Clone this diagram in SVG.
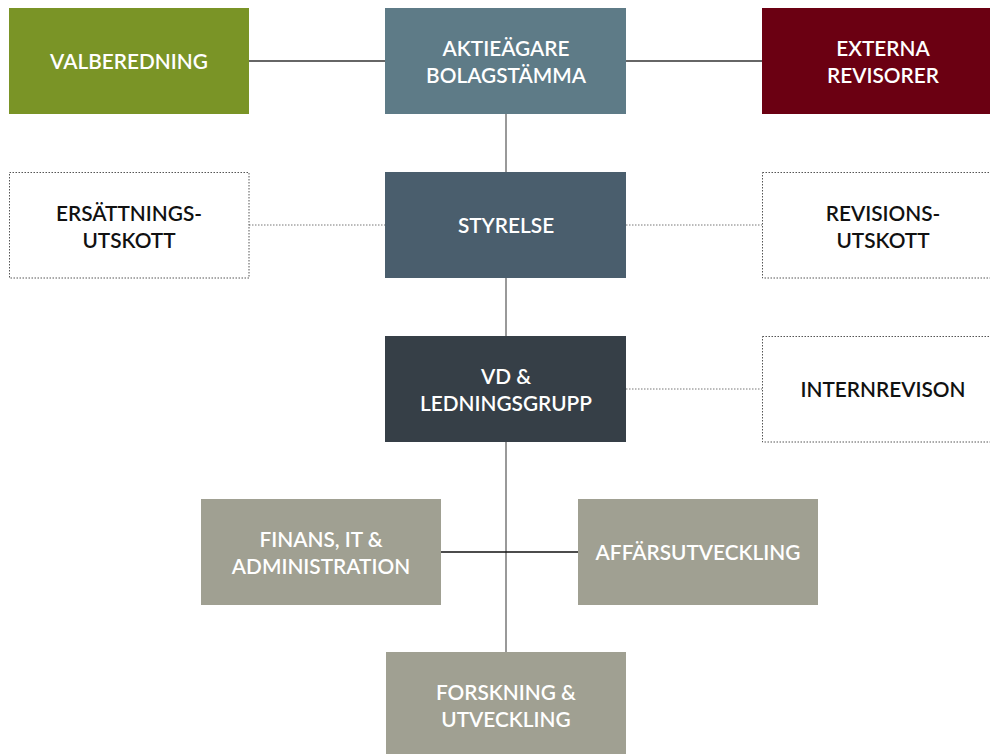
<svg xmlns="http://www.w3.org/2000/svg" width="990" height="754" viewBox="0 0 990 754">
<style>
text{font-family:Lato,"Open Sans","Liberation Sans",sans-serif;font-size:20.8px;font-weight:600;text-anchor:middle}
.w{fill:#ffffff}.k{fill:#111111}
.dot{fill:#ffffff;stroke:#555555;stroke-width:1;stroke-dasharray:1.5 1.5}
</style>
<rect width="990" height="754" fill="#ffffff"/>
<g id="connectors">
<line x1="249" y1="61" x2="385" y2="61" stroke="#333" stroke-width="1.3"/>
<line x1="626" y1="61" x2="762" y2="61" stroke="#333" stroke-width="1.3"/>
<line x1="506" y1="114" x2="506" y2="172" stroke="#777" stroke-width="1.5"/>
<line x1="506" y1="278" x2="506" y2="336" stroke="#777" stroke-width="1.5"/>
<line x1="506" y1="442" x2="506" y2="652" stroke="#777" stroke-width="1.5"/>
<line x1="441" y1="552" x2="578" y2="552" stroke="#111" stroke-width="1.3"/>
<line x1="249" y1="225" x2="385" y2="225" stroke="#777" stroke-width="1" stroke-dasharray="1.5 1.5"/>
<line x1="626" y1="225" x2="762" y2="225" stroke="#777" stroke-width="1" stroke-dasharray="1.5 1.5"/>
<line x1="626" y1="389" x2="762" y2="389" stroke="#777" stroke-width="1" stroke-dasharray="1.5 1.5"/>
</g>
<g id="valberedning"><rect x="9" y="8" width="240" height="106" fill="#7a9426"/><text class="w" x="129" y="68.5">VALBEREDNING</text></g>
<g id="aktieagare"><rect x="385" y="8" width="241" height="106" fill="#5e7b87"/><text class="w" x="506" y="55.5">AKTIEÄGARE</text><text class="w" x="506" y="82.5">BOLAGSTÄMMA</text></g>
<g id="externa"><rect x="762" y="8" width="228" height="106" fill="#6b0012"/><text class="w" x="883" y="55.5">EXTERNA</text><text class="w" x="883" y="82.5">REVISORER</text></g>
<g id="ersattning"><rect class="dot" x="9.5" y="172.5" width="239.5" height="105.5"/><text class="k" x="129" y="220.5">ERSÄTTNINGS-</text><text class="k" x="129" y="247.5">UTSKOTT</text></g>
<g id="styrelse"><rect x="385" y="172" width="241" height="106" fill="#4a5e6d"/><text class="w" x="506" y="232.5">STYRELSE</text></g>
<g id="revisions"><rect class="dot" x="762.5" y="172.5" width="228" height="105.5"/><text class="k" x="883" y="220.5">REVISIONS-</text><text class="k" x="883" y="247.5">UTSKOTT</text></g>
<g id="vd"><rect x="385" y="336" width="241" height="106" fill="#363f47"/><text class="w" x="506" y="383.5">VD &amp;</text><text class="w" x="506" y="410.5">LEDNINGSGRUPP</text></g>
<g id="internrevison"><rect class="dot" x="762.5" y="336.5" width="228" height="105.5"/><text class="k" x="883" y="396.5">INTERNREVISON</text></g>
<g id="finans"><rect x="201" y="499" width="240" height="106" fill="#a0a092"/><text class="w" x="321" y="546.5">FINANS, IT &amp;</text><text class="w" x="321" y="573.5">ADMINISTRATION</text></g>
<g id="affars"><rect x="578" y="499" width="240" height="106" fill="#a0a092"/><text class="w" x="698" y="559.5">AFFÄRSUTVECKLING</text></g>
<g id="forskning"><rect x="386" y="652" width="240" height="102" fill="#a0a092"/><text class="w" x="506" y="699.5">FORSKNING &amp;</text><text class="w" x="506" y="726.5">UTVECKLING</text></g>
</svg>
